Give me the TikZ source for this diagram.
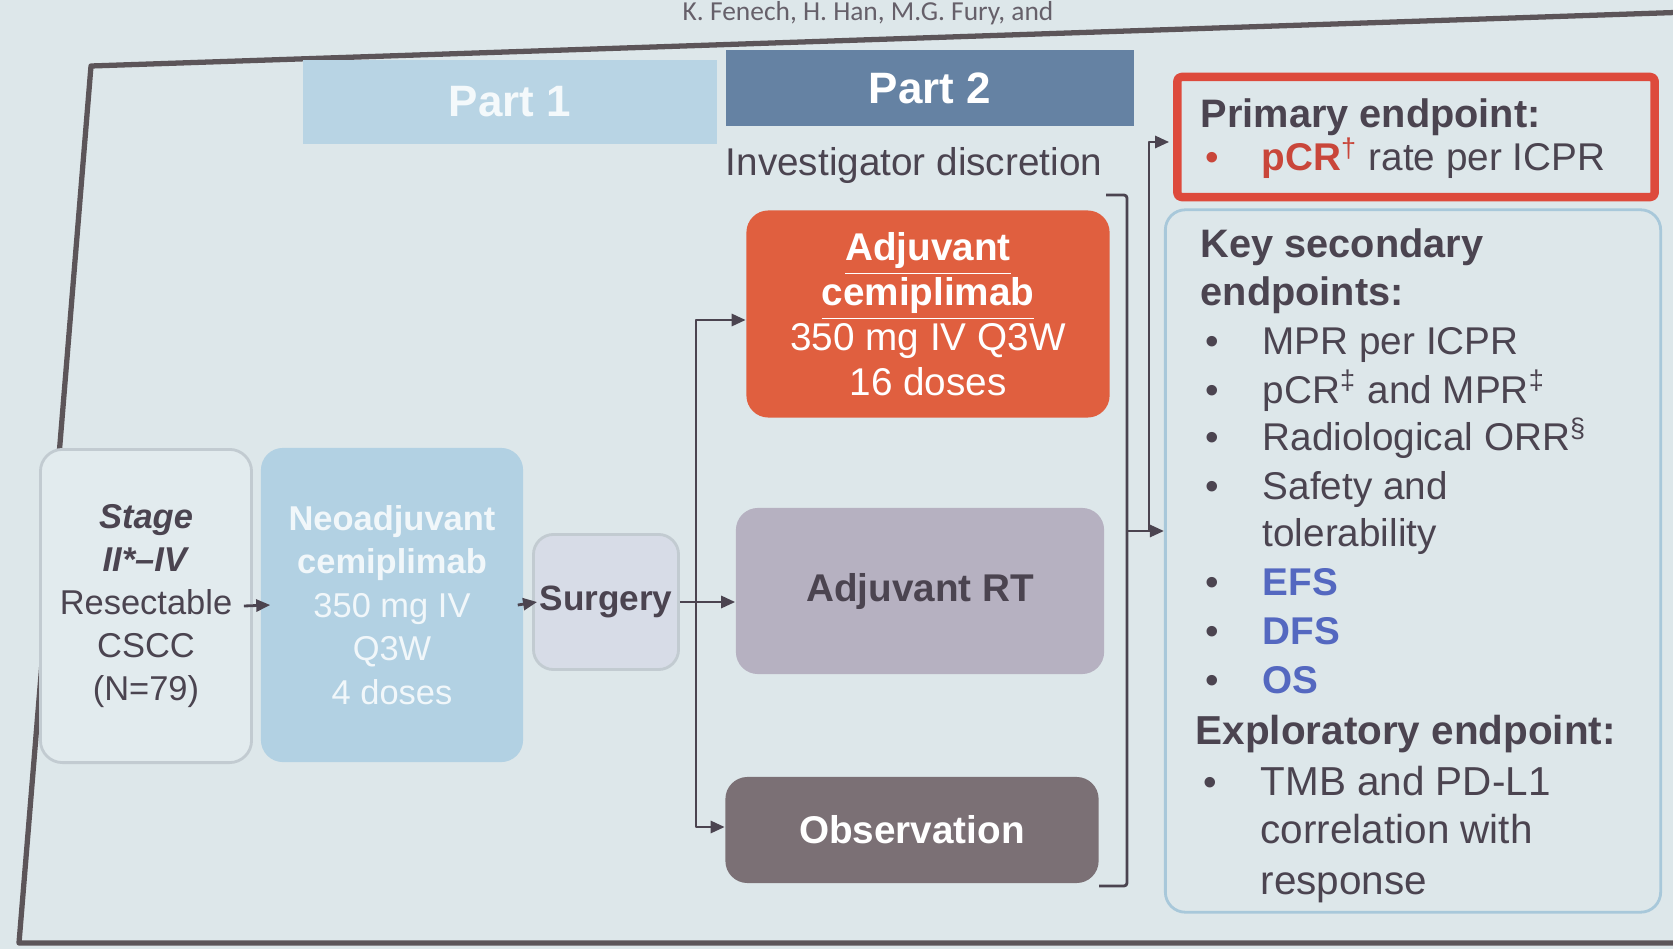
\documentclass[tikz,border=0pt]{standalone}
\usepackage{fontspec}
\setmainfont{Liberation Sans}
\newfontfamily\namefont{Carlito}
\usetikzlibrary{arrows.meta}

\definecolor{slide}{HTML}{DDE7EA}
\definecolor{ink}{HTML}{4B4450}
\definecolor{frameline}{HTML}{5C5559}
\definecolor{partone}{HTML}{B8D4E4}
\definecolor{parttwo}{HTML}{6582A3}
\definecolor{adjorange}{HTML}{E05F3F}
\definecolor{rtgrey}{HTML}{B6B1C1}
\definecolor{obsgrey}{HTML}{7B7075}
\definecolor{neoblue}{HTML}{B2D1E3}
\definecolor{surgfill}{HTML}{D7DCE7}
\definecolor{pale}{HTML}{E2EBEE}
\definecolor{boxline}{HTML}{C2CBD1}
\definecolor{secline}{HTML}{A8C8DA}
\definecolor{primred}{HTML}{DD4A3C}
\definecolor{pcrred}{HTML}{C9463A}
\definecolor{efsblue}{HTML}{5468C0}

\begin{document}
\begin{tikzpicture}[
        x = 0.01cm,
        y = -0.01cm,
        line join=round,
        font = \fontsize{11}{12.5}\selectfont,
        text = ink,
        boxstyle/.style = {rounded corners=0.22cm, align=center, inner sep=0pt},
        partstyle/.style = {inner sep=0pt, font=\fontsize{12.5}{14}\selectfont\bfseries},
        linkstyle/.style = {draw=ink, line width=0.8pt},
        arrowstyle/.style = {linkstyle, -{Triangle[length=0.14cm, width=0.12cm]}},
        liststyle/.style = {anchor=base west, inner sep=0pt}
    ]
        \useasboundingbox (0, 0) rectangle (1673, 949);
        \fill[slide] (0, 0) rectangle (1673, 949);

        \node[liststyle, font=\namefont\fontsize{7.8}{9}\selectfont, text=ink!85] (authors) at (682, 21) {K. Fenech, H. Han, M.G. Fury, and};

        \draw[frameline, line width=1.5pt] (1690, 12) -- (91, 66) -- (19, 943) -- (1690, 943);

        \node[partstyle, fill=partone, text=white!85!partone, minimum width=4.13cm, minimum height=0.83cm] (part1) at (510, 102) {Part 1};
        \node[partstyle, fill=parttwo, text=white, minimum width=4.07cm, minimum height=0.76cm] (part2) at (930, 88) {Part 2};
        \node (inv) at (914, 166) {Investigator discretion};

        \node[boxstyle, fill=pale, draw=boxline, line width=0.8pt, minimum width=2.11cm, minimum height=3.13cm, font=\fontsize{9.8}{12.2}\selectfont] (stage) at (146, 606) {\textbf{\textit{Stage}}\\\textbf{\textit{II*–IV}}\\Resectable\\CSCC\\(N=79)};
        \node[boxstyle, fill=neoblue, text=white!82!neoblue, minimum width=2.62cm, minimum height=3.14cm, font=\fontsize{9.8}{12.4}\selectfont] (neo) at (392, 605) {\textbf{Neoadjuvant}\\\textbf{cemiplimab}\\350 mg IV\\Q3W\\4 doses};
        \node[boxstyle, rounded corners=0.2cm, fill=surgfill, draw=boxline, line width=0.8pt, minimum width=1.45cm, minimum height=1.35cm, font=\fontsize{10}{12}\selectfont] (surg) at (606, 602) {\textbf{Surgery}};

        \node[boxstyle, fill=adjorange, text=white, minimum width=3.63cm, minimum height=2.07cm, font=\fontsize{11}{12.8}\selectfont] (adjc) at (928, 314) {\textbf{\underline{Adjuvant}}\\\textbf{\underline{cemiplimab}}\\350 mg IV Q3W\\16 doses};
        \node[boxstyle, fill=rtgrey, minimum width=3.68cm, minimum height=1.66cm] (rt) at (920, 591) {\textbf{Adjuvant RT}};
        \node[boxstyle, fill=obsgrey, text=white, minimum width=3.73cm, minimum height=1.06cm] (obs) at (912, 830) {\textbf{Observation}};

        \node[draw=primred, line width=2.4pt, rounded corners=0.04cm, minimum width=4.77cm, minimum height=1.20cm, inner sep=0pt] (prim) at (1416, 137) {};
        \node[draw=secline, line width=0.8pt, rounded corners=0.2cm, minimum width=4.95cm, minimum height=7.02cm, inner sep=0pt] (sec) at (1413, 561) {};

        \coordinate (split) at (696, 602);
        \coordinate (b1) at (1106, 195);
        \coordinate (b2) at (1127, 195);
        \coordinate (b3) at (1127, 886);
        \coordinate (b4) at (1099, 886);
        \coordinate (join) at (1127, 531);
        \coordinate (up) at (1149, 531);

        \draw[arrowstyle] ([xshift=-0.09cm]stage.east) -- ([xshift=0.1cm]neo.west);
        \draw[arrowstyle] ([xshift=-0.06cm]neo.east) -- ([xshift=0.05cm]surg.west);
        \draw[arrowstyle] (surg.east) -- (surg.east -| rt.west);
        \draw[arrowstyle] (split) |- ([yshift=-0.06cm]adjc.west);
        \draw[arrowstyle] (split) |- ([yshift=0.03cm]obs.west);

        \draw[linkstyle, rounded corners=0.03cm] (b1) -- (b2) -- (b3) -- (b4);
        \draw[arrowstyle] (join) -- (join -| sec.west);
        \draw[arrowstyle] (up) |- ([xshift=-0.04cm, yshift=-0.05cm]prim.west);

        \node[liststyle, font=\fontsize{11.3}{13}\selectfont\bfseries] (p0) at (1200, 128) {Primary endpoint:};
        \node[liststyle, text=pcrred] (pb1) at (1205, 171) {\textbullet};
        \node[liststyle] (p1) at (1261, 171) {\textcolor{pcrred}{\textbf{pCR}\textsuperscript{†}} rate per ICPR};

        \node[liststyle, font=\fontsize{11.3}{13}\selectfont\bfseries] (k0) at (1200, 258) {Key secondary};
        \node[liststyle, font=\fontsize{11.3}{13}\selectfont\bfseries] (k1) at (1200, 306) {endpoints:};
        \node[liststyle] (kb2) at (1205, 355) {\textbullet};
        \node[liststyle] (k2) at (1262, 355) {MPR per ICPR};
        \node[liststyle] (kb3) at (1205, 403) {\textbullet};
        \node[liststyle] (k3) at (1262, 403) {pCR\textsuperscript{‡} and MPR\textsuperscript{‡}};
        \node[liststyle] (kb4) at (1205, 451) {\textbullet};
        \node[liststyle] (k4) at (1262, 451) {Radiological ORR\textsuperscript{§}};
        \node[liststyle] (kb5) at (1205, 499) {\textbullet};
        \node[liststyle] (k5) at (1262, 499) {Safety and};
        \node[liststyle] (k6) at (1262, 546) {tolerability};
        \node[liststyle] (kb7) at (1205, 595) {\textbullet};
        \node[liststyle, text=efsblue, font=\fontsize{11}{12.5}\selectfont\bfseries] (k7) at (1262, 595) {EFS};
        \node[liststyle] (kb8) at (1205, 644) {\textbullet};
        \node[liststyle, text=efsblue, font=\fontsize{11}{12.5}\selectfont\bfseries] (k8) at (1262, 644) {DFS};
        \node[liststyle] (kb9) at (1205, 693) {\textbullet};
        \node[liststyle, text=efsblue, font=\fontsize{11}{12.5}\selectfont\bfseries] (k9) at (1262, 693) {OS};
        \node[liststyle, font=\fontsize{11.5}{13}\selectfont\bfseries] (k10) at (1195, 744) {Exploratory endpoint:};
        \node[liststyle] (kb11) at (1203, 795) {\textbullet};
        \node[liststyle, font=\fontsize{11.5}{13}\selectfont] (k11) at (1260, 795) {TMB and PD-L1};
        \node[liststyle, font=\fontsize{11.5}{13}\selectfont] (k12) at (1260, 843) {correlation with};
        \node[liststyle, font=\fontsize{11.5}{13}\selectfont] (k13) at (1260, 894) {response};

    \end{tikzpicture}
\end{document}
